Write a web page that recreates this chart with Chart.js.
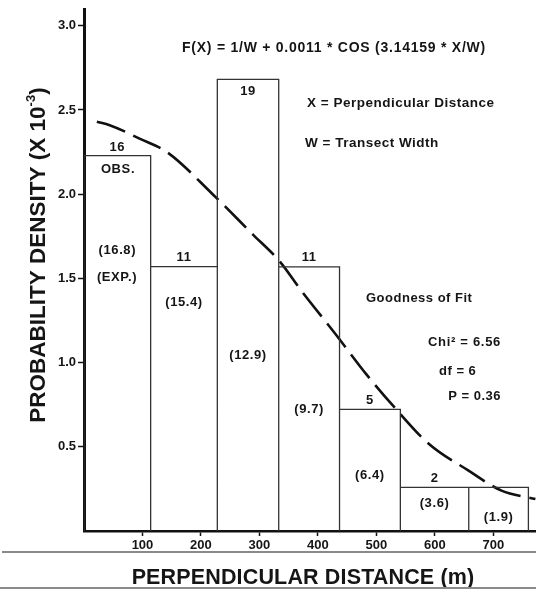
<!DOCTYPE html>
<html>
<head>
<meta charset="utf-8">
<script src="https://cdn.jsdelivr.net/npm/chart.js@4"></script>
<style>
  html, body { margin: 0; padding: 0; background: #fff; }
  #wrap { width: 536px; height: 592px; position: relative; }
</style>
</head>
<body>
<div id="wrap"><canvas id="chart"></canvas></div>
<script>
// Distance histogram with the fitted cosine curve
const binEdges = [0, 114, 228, 333, 437, 541, 658, 760];
const densities = [2.229, 1.570, 2.682, 1.568, 0.722, 0.259, 0.259];
const observed = ['16', '11', '19', '11', '5', '2', ''];
const expected = ['(16.8)', '(15.4)', '(12.9)', '(9.7)', '(6.4)', '(3.6)', '(1.9)'];

// fitted curve
const curveX = [22, 44, 95, 142, 220, 289, 335, 371, 430, 483, 532, 589, 657, 714, 772];
const curveY = [2.43, 2.41, 2.33, 2.25, 2.00, 1.76, 1.60, 1.43, 1.17, 0.93, 0.73, 0.52, 0.36, 0.24, 0.19];

const xTicks = [100, 200, 300, 400, 500, 600, 700];
const yTicks = [0.5, 1.0, 1.5, 2.0, 2.5, 3.0];

// label placement (pixels)
const obsLabelY = [147, 257, 91, 257, 400, 478, 0];
const expLabelY = [250, 302, 355, 409, 475, 503, 517];

const barOutline = [];
densities.forEach((d, i) => {
    const x0 = binEdges[i], x1 = binEdges[i + 1];
    barOutline.push({x: x0, y: 0}, {x: x0, y: d}, {x: x1, y: d}, {x: x1, y: 0}, {x: x1, y: null});
});
const curve = curveX.map((x, i) => ({x: x, y: curveY[i]}));

const FONT = '"Liberation Sans", Arial, sans-serif';

function txt(ctx, s, x, y, size, align, spacing) {
    ctx.font = 'bold ' + size + 'px ' + FONT;
    ctx.letterSpacing = (spacing || 0) + 'px';
    ctx.textAlign = align || 'center';
    ctx.fillText(s, x, y);
}

const notes = {
    id: 'notes',
    afterDraw(chart) {
        const {ctx, scales: {x}} = chart;
        ctx.save();
        ctx.fillStyle = '#151515';
        ctx.textBaseline = 'middle';

        densities.forEach((d, i) => {
            const cx = (x.getPixelForValue(binEdges[i]) + x.getPixelForValue(binEdges[i + 1])) / 2;
            if (observed[i]) txt(ctx, observed[i], cx, obsLabelY[i], 13, 'center', 0.6);
            txt(ctx, expected[i], cx, expLabelY[i], 13, 'center', 0.6);
        });
        txt(ctx, 'OBS.', 118, 169, 13, 'center', 0.6);
        txt(ctx, '(EXP.)', 117, 277, 13, 'center', 0.6);

        txt(ctx, 'F(X) = 1/W + 0.0011 * COS (3.14159 * X/W)', 334, 48, 14, 'center', 0.75);
        txt(ctx, 'X = Perpendicular Distance', 307, 103, 13.5, 'left', 0.5);
        txt(ctx, 'W = Transect Width', 305, 143, 13.5, 'left', 0.5);
        txt(ctx, 'Goodness of Fit', 366, 298, 13, 'left', 0.5);
        txt(ctx, 'Chi\u00B2 = 6.56', 501, 342, 13, 'right', 0.7);
        txt(ctx, 'df = 6', 439, 371, 13, 'left', 0.5);
        txt(ctx, 'P = 0.36', 501, 396, 13, 'right', 0.5);

        // x axis title
        txt(ctx, 'PERPENDICULAR DISTANCE (m)', 303, 578, 21.5, 'center', 0.15);

        // y axis title with superscript
        ctx.save();
        ctx.translate(39, 255);
        ctx.rotate(-Math.PI / 2);
        ctx.letterSpacing = '0px';
        ctx.textAlign = 'left';
        const big = 'bold 22.5px ' + FONT, small = 'bold 13px ' + FONT;
        ctx.font = big;
        const w1 = ctx.measureText('PROBABILITY DENSITY (X 10').width;
        const w3 = ctx.measureText(')').width;
        ctx.font = small;
        const w2 = ctx.measureText('-3').width;
        let px = -(w1 + w2 + w3) / 2;
        ctx.font = big;
        ctx.fillText('PROBABILITY DENSITY (X 10', px, 0);
        px += w1;
        ctx.font = small;
        ctx.fillText('-3', px, -8);
        px += w2;
        ctx.font = big;
        ctx.fillText(')', px, 0);
        ctx.restore();

        // rule lines across the page bottom
        ctx.strokeStyle = '#8a8a8a';
        ctx.lineWidth = 2;
        ctx.beginPath();
        ctx.moveTo(2, 552); ctx.lineTo(536, 552);
        ctx.moveTo(0, 588); ctx.lineTo(536, 588);
        ctx.stroke();
        ctx.restore();
    }
};

new Chart(document.getElementById('chart'), {
    type: 'line',
    data: {
        datasets: [{
            data: barOutline,
            borderColor: '#333',
            borderWidth: 1.3,
            pointRadius: 0,
            spanGaps: false,
            tension: 0
        }, {
            data: curve,
            borderColor: '#111',
            borderWidth: 2.6,
            borderDash: [30, 9],
            pointRadius: 0,
            cubicInterpolationMode: 'monotone'
        }]
    },
    options: {
        responsive: true,
        maintainAspectRatio: false,
        animation: false,
        layout: { padding: { top: 8, right: 0, left: 0, bottom: 0 } },
        plugins: { legend: { display: false }, tooltip: { enabled: false } },
        scales: {
            x: {
                type: 'linear',
                min: 0,
                max: 773,
                afterBuildTicks: s => { s.ticks = xTicks.map(v => ({value: v})); },
                afterFit: s => { s.height = 61; },
                border: { color: '#111', width: 2.5 },
                grid: { drawOnChartArea: false, tickLength: 5, tickWidth: 1.5, tickColor: '#111' },
                ticks: { color: '#151515', font: { family: FONT, size: 13, weight: 'bold' }, padding: 2, maxRotation: 0 }
            },
            y: {
                min: 0,
                max: 3.095,
                afterBuildTicks: s => { s.ticks = yTicks.map(v => ({value: v})); },
                afterFit: s => { s.width = 84; },
                border: { color: '#111', width: 3 },
                grid: { drawOnChartArea: false, tickLength: 6, tickWidth: 1.5, tickColor: '#111' },
                ticks: { color: '#151515', font: { family: FONT, size: 13, weight: 'bold' }, padding: 2,
                         callback: v => v.toFixed(1) }
            }
        }
    },
    plugins: [notes]
});
</script>
</body>
</html>
